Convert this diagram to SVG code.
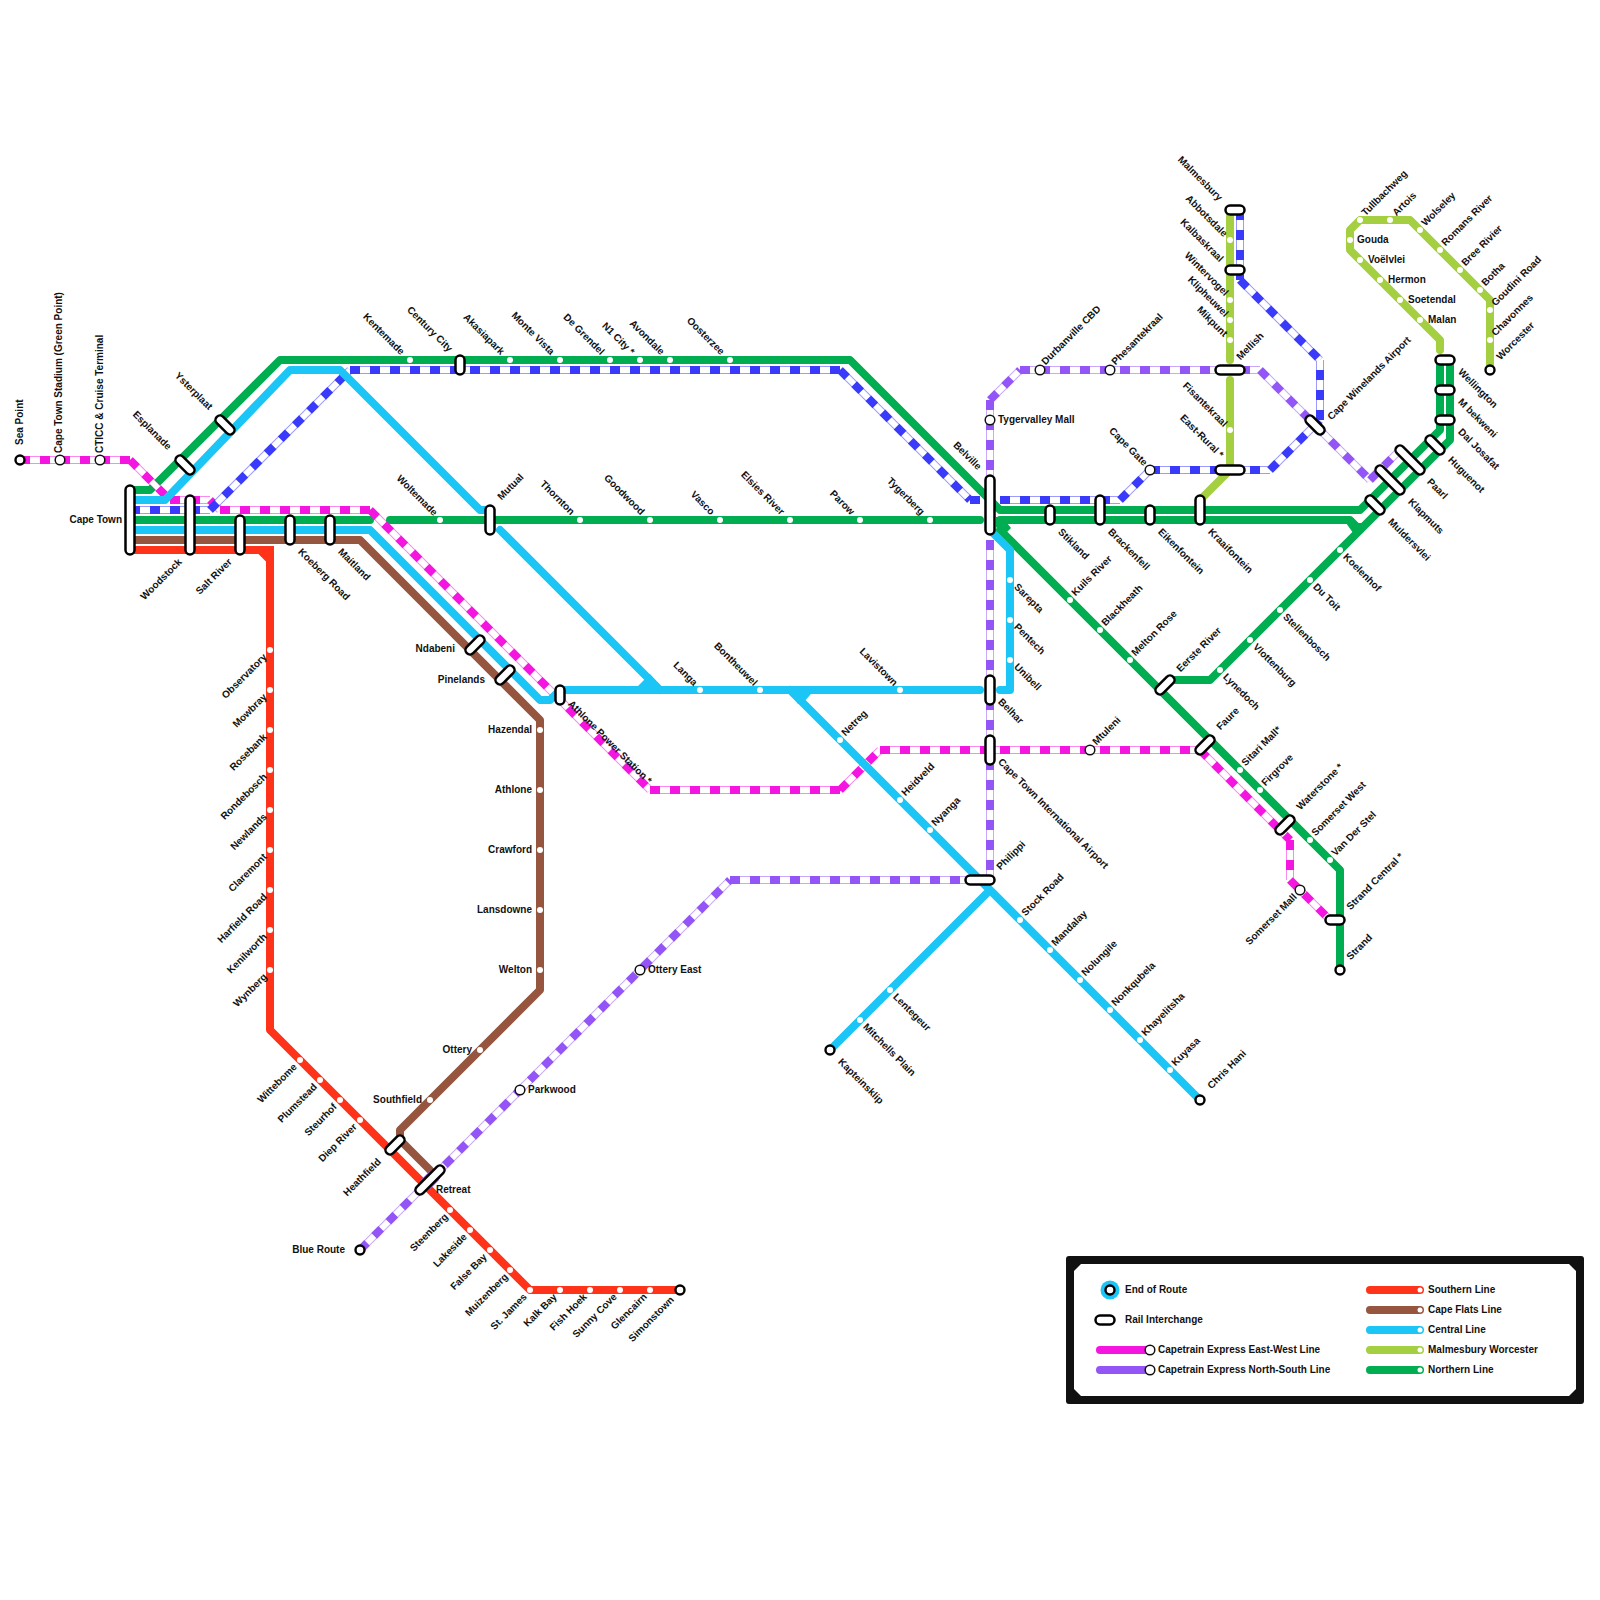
<svg xmlns="http://www.w3.org/2000/svg" width="1600" height="1600" viewBox="0 0 1600 1600">
<style>
text{font-family:"Liberation Sans",Arial,sans-serif;font-size:10px;font-weight:700;fill:#111}
.e{text-anchor:end}
.l{fill:none;stroke-width:8;stroke-linecap:round;stroke-linejoin:round}
.red{stroke:#ff3319}.bro{stroke:#95553f}.cya{stroke:#1bc5f5}.lim{stroke:#a3cf40}.gre{stroke:#00ad50}
.x{fill:none;stroke-width:8}
.xo{opacity:.5}.xw{stroke:#fff;stroke-width:6}.xd{stroke-dasharray:10 10}
.mag{stroke:#f515e0}.pur{stroke:#9355f5}.blu{stroke:#3a3afa}
.s{fill:#fff}
.o{fill:#fff;stroke:#111;stroke-width:1.5}
.t{fill:#fff;stroke:#000;stroke-width:2.4}
.ib{stroke:#000;stroke-width:11.5;stroke-linecap:round}
.iw{stroke:#fff;stroke-width:6.5;stroke-linecap:round}
</style>
<defs>
<path id="pmag" d="M20,460H130M130,460L170,500M170,500H210M210,500L220,510M220,510H370M370,510L650,790M650,790H840M840,790L880,750M880,750H1200M1200,750L1290,840M1290,840V880M1290,880L1330,920"/>
<path id="ppur" d="M360,1250L730,880M730,880H990M990,540V880M990,400V480M990,400L1020,370M1020,370H1260M1260,370L1370,480M1370,480L1400,450"/>
<path id="pblu" d="M130,510H210M210,510L350,370M350,370H840M840,370L970,500M970,500H980M1000,500H1120M1120,500L1150,470M1150,470H1270M1270,470L1320,420M1320,420V360M1240,280L1320,360M1240,210V280"/>
</defs>
<g id="connectors">
<path class="l bro" d="M130,540H360L540,720V990L400,1130V1140L430,1170"/>
<path class="l red" d="M130,550H260L270,560V1030L530,1290H680"/>
<path class="red" fill="none" stroke-width="8" d="M258,550H270V562"/>
<path class="l lim" d="M1230,210V360M1230,380V470L1200,500"/>
<path class="l lim" d="M1440,350V340L1350,250V230L1360,220H1410L1490,300V370"/>
<path class="l gre" d="M130,490H150L280,360H850L1000,510H1360L1440,430V360"/>
<path class="l gre" d="M130,520H370M390,520H980"/>
<path class="l gre" d="M1000,520H1350L1360,530M1000,530L1340,870V970"/>
<path fill="#00ad50" d="M996,517H1012V523H1007L1011,528L1004,535L996,527Z"/>
<path fill="#00ad50" d="M1346,523H1362V532L1356,537Z"/>
<path class="l gre" d="M1450,360V440L1210,680H1170"/>
<g id="exp-purple"><use href="#ppur" class="x pur xo"/><use href="#ppur" class="x xw"/><use href="#ppur" class="x pur xd"/></g>
<g id="exp-magenta"><use href="#pmag" class="x mag xo"/><use href="#pmag" class="x xw"/><use href="#pmag" class="x mag xd"/></g>
<g id="exp-blue"><use href="#pblu" class="x blu xo"/><use href="#pblu" class="x xw"/><use href="#pblu" class="x blu xd"/></g>
<path class="l cya" d="M130,500H165L290,370H340L480,510H490M500,530L660,690"/>
<path class="l cya" d="M130,530H370L540,700H550L560,690H980"/>
<path fill="#1bc5f5" d="M636,688L650,674L666,692H636Z"/>
<path class="l cya" d="M790,690L1200,1100M830,1050L990,890"/>
<path fill="#1bc5f5" d="M786,688H816L804,702L798,704Z"/>
<path class="l cya" d="M990,530L1010,550V690H1000"/>
<path fill="#1bc5f5" d="M1000,693L1012,680V693Z"/>
<path stroke="#9355f5" stroke-width="13" stroke-linecap="round" d="M426,1184L434,1176"/>
</g>
<g id="cape-town"><line class="ib" x1="130" y1="490" x2="130" y2="550"/><line class="iw" x1="130" y1="490" x2="130" y2="550"/><text class="e" x="122" y="519" dy=".35em">Cape Town</text></g>
<g id="woodstock"><line class="ib" x1="190" y1="500" x2="190" y2="550"/><line class="iw" x1="190" y1="500" x2="190" y2="550"/><text class="e" transform="translate(180 560) rotate(-45)" dy=".35em">Woodstock</text></g>
<g id="salt-river"><line class="ib" x1="240" y1="520" x2="240" y2="550"/><line class="iw" x1="240" y1="520" x2="240" y2="550"/><text class="e" transform="translate(230 560) rotate(-45)" dy=".35em">Salt River</text></g>
<g id="koeberg-road"><line class="ib" x1="290" y1="520" x2="290" y2="540"/><line class="iw" x1="290" y1="520" x2="290" y2="540"/><text transform="translate(300 550) rotate(45)" dy=".35em">Koeberg Road</text></g>
<g id="maitland"><line class="ib" x1="330" y1="520" x2="330" y2="540"/><line class="iw" x1="330" y1="520" x2="330" y2="540"/><text transform="translate(340 550) rotate(45)" dy=".35em">Maitland</text></g>
<g id="esplanade"><line class="ib" x1="180" y1="460" x2="190" y2="470"/><line class="iw" x1="180" y1="460" x2="190" y2="470"/><text class="e" transform="translate(170 448) rotate(45)" dy=".35em">Esplanade</text></g>
<g id="ysterplaat"><line class="ib" x1="220" y1="420" x2="230" y2="430"/><line class="iw" x1="220" y1="420" x2="230" y2="430"/><text class="e" transform="translate(211 408) rotate(45)" dy=".35em">Ysterplaat</text></g>
<g id="sea-point"><circle class="t" cx="20" cy="460" r="4.5"/><text transform="translate(19 445) rotate(-90)" dy=".35em">Sea Point</text></g>
<g id="cape-town-stadium"><circle class="o" cx="60" cy="460" r="4.8"/><text transform="translate(58 453) rotate(-90)" dy=".35em">Cape Town Stadium (Green Point)</text></g>
<g id="ctcc"><circle class="o" cx="100" cy="460" r="4.8"/><text transform="translate(99 453) rotate(-90)" dy=".35em">CTICC &amp; Cruise Terminal</text></g>
<g id="kentemade"><circle class="s" cx="410" cy="360" r="3"/><text class="e" transform="translate(403 353) rotate(45)" dy=".35em">Kentemade</text></g>
<g id="century-city"><line class="ib" x1="460" y1="360" x2="460" y2="370"/><line class="iw" x1="460" y1="360" x2="460" y2="370"/><text class="e" transform="translate(451 350) rotate(45)" dy=".35em">Century City</text></g>
<g id="akasiapark"><circle class="s" cx="510" cy="360" r="3"/><text class="e" transform="translate(503 353) rotate(45)" dy=".35em">Akasiapark</text></g>
<g id="monte-vista"><circle class="s" cx="560" cy="360" r="3"/><text class="e" transform="translate(553 353) rotate(45)" dy=".35em">Monte Vista</text></g>
<g id="de-grendel"><circle class="s" cx="610" cy="360" r="3"/><text class="e" transform="translate(603 353) rotate(45)" dy=".35em">De Grendel</text></g>
<g id="n1-city"><circle class="s" cx="640" cy="360" r="3"/><text class="e" transform="translate(633 353) rotate(45)" dy=".35em">N1 City *</text></g>
<g id="avondale"><circle class="s" cx="670" cy="360" r="3"/><text class="e" transform="translate(663 353) rotate(45)" dy=".35em">Avondale</text></g>
<g id="oosterzee"><circle class="s" cx="730" cy="360" r="3"/><text class="e" transform="translate(723 353) rotate(45)" dy=".35em">Oosterzee</text></g>
<g id="woltemade"><circle class="s" cx="440" cy="520" r="3"/><text class="e" transform="translate(436 514) rotate(45)" dy=".35em">Woltemade</text></g>
<g id="mutual"><line class="ib" x1="490" y1="510" x2="490" y2="530"/><line class="iw" x1="490" y1="510" x2="490" y2="530"/><text transform="translate(499 498) rotate(-45)" dy=".35em">Mutual</text></g>
<g id="thornton"><circle class="s" cx="580" cy="520" r="3"/><text class="e" transform="translate(573 513) rotate(45)" dy=".35em">Thornton</text></g>
<g id="goodwood"><circle class="s" cx="650" cy="520" r="3"/><text class="e" transform="translate(643 513) rotate(45)" dy=".35em">Goodwood</text></g>
<g id="vasco"><circle class="s" cx="720" cy="520" r="3"/><text class="e" transform="translate(713 513) rotate(45)" dy=".35em">Vasco</text></g>
<g id="elsies-river"><circle class="s" cx="790" cy="520" r="3"/><text class="e" transform="translate(783 513) rotate(45)" dy=".35em">Elsies River</text></g>
<g id="parow"><circle class="s" cx="860" cy="520" r="3"/><text class="e" transform="translate(853 513) rotate(45)" dy=".35em">Parow</text></g>
<g id="tygerberg"><circle class="s" cx="930" cy="520" r="3"/><text class="e" transform="translate(923 513) rotate(45)" dy=".35em">Tygerberg</text></g>
<g id="belville"><line class="ib" x1="990" y1="480" x2="990" y2="530"/><line class="iw" x1="990" y1="480" x2="990" y2="530"/><text class="e" transform="translate(980 468) rotate(45)" dy=".35em">Belville</text></g>
<g id="ndabeni"><line class="ib" x1="470" y1="650" x2="480" y2="640"/><line class="iw" x1="470" y1="650" x2="480" y2="640"/><text class="e" x="455" y="648" dy=".35em">Ndabeni</text></g>
<g id="pinelands"><line class="ib" x1="500" y1="680" x2="510" y2="670"/><line class="iw" x1="500" y1="680" x2="510" y2="670"/><text class="e" x="485" y="679" dy=".35em">Pinelands</text></g>
<g id="athlone-power"><line class="ib" x1="560" y1="690" x2="560" y2="700"/><line class="iw" x1="560" y1="690" x2="560" y2="700"/><text transform="translate(570 702) rotate(45)" dy=".35em">Athlone Power Station *</text></g>
<g id="hazendal"><circle class="s" cx="540" cy="730" r="3"/><text class="e" x="532" y="729" dy=".35em">Hazendal</text></g>
<g id="athlone"><circle class="s" cx="540" cy="790" r="3"/><text class="e" x="532" y="789" dy=".35em">Athlone</text></g>
<g id="crawford"><circle class="s" cx="540" cy="850" r="3"/><text class="e" x="532" y="849" dy=".35em">Crawford</text></g>
<g id="lansdowne"><circle class="s" cx="540" cy="910" r="3"/><text class="e" x="532" y="909" dy=".35em">Lansdowne</text></g>
<g id="welton"><circle class="s" cx="540" cy="970" r="3"/><text class="e" x="532" y="969" dy=".35em">Welton</text></g>
<g id="ottery"><circle class="s" cx="480" cy="1050" r="3"/><text class="e" x="472" y="1049" dy=".35em">Ottery</text></g>
<g id="southfield"><circle class="s" cx="430" cy="1100" r="3"/><text class="e" x="422" y="1099" dy=".35em">Southfield</text></g>
<g id="observatory"><circle class="s" cx="270" cy="650" r="3"/><text class="e" transform="translate(265 655) rotate(-45)" dy=".35em">Observatory</text></g>
<g id="mowbray"><circle class="s" cx="270" cy="690" r="3"/><text class="e" transform="translate(265 695) rotate(-45)" dy=".35em">Mowbray</text></g>
<g id="rosebank"><circle class="s" cx="270" cy="730" r="3"/><text class="e" transform="translate(265 735) rotate(-45)" dy=".35em">Rosebank</text></g>
<g id="rondebosch"><circle class="s" cx="270" cy="770" r="3"/><text class="e" transform="translate(265 775) rotate(-45)" dy=".35em">Rondebosch</text></g>
<g id="newlands"><circle class="s" cx="270" cy="810" r="3"/><text class="e" transform="translate(265 815) rotate(-45)" dy=".35em">Newlands</text></g>
<g id="claremont"><circle class="s" cx="270" cy="850" r="3"/><text class="e" transform="translate(265 855) rotate(-45)" dy=".35em">Claremont</text></g>
<g id="harfield-road"><circle class="s" cx="270" cy="890" r="3"/><text class="e" transform="translate(265 895) rotate(-45)" dy=".35em">Harfield Road</text></g>
<g id="kenilworth"><circle class="s" cx="270" cy="930" r="3"/><text class="e" transform="translate(265 935) rotate(-45)" dy=".35em">Kenilworth</text></g>
<g id="wynberg"><circle class="s" cx="270" cy="970" r="3"/><text class="e" transform="translate(265 975) rotate(-45)" dy=".35em">Wynberg</text></g>
<g id="wittebome"><circle class="s" cx="300" cy="1060" r="3"/><text class="e" transform="translate(295 1065) rotate(-45)" dy=".35em">Wittebome</text></g>
<g id="plumstead"><circle class="s" cx="320" cy="1080" r="3"/><text class="e" transform="translate(315 1085) rotate(-45)" dy=".35em">Plumstead</text></g>
<g id="steurhof"><circle class="s" cx="340" cy="1100" r="3"/><text class="e" transform="translate(335 1105) rotate(-45)" dy=".35em">Steurhof</text></g>
<g id="diep-river"><circle class="s" cx="360" cy="1120" r="3"/><text class="e" transform="translate(355 1125) rotate(-45)" dy=".35em">Diep River</text></g>
<g id="heathfield"><line class="ib" x1="390" y1="1150" x2="400" y2="1140"/><line class="iw" x1="390" y1="1150" x2="400" y2="1140"/><text class="e" transform="translate(379 1160) rotate(-45)" dy=".35em">Heathfield</text></g>
<g id="retreat"><line class="ib" x1="420" y1="1190" x2="440" y2="1170"/><line class="iw" x1="420" y1="1190" x2="440" y2="1170"/><text x="436" y="1189" dy=".35em">Retreat</text></g>
<g id="steenberg"><circle class="s" cx="450" cy="1210" r="3"/><text class="e" transform="translate(446 1215) rotate(-45)" dy=".35em">Steenberg</text></g>
<g id="lakeside"><circle class="s" cx="470" cy="1230" r="3"/><text class="e" transform="translate(465 1235) rotate(-45)" dy=".35em">Lakeside</text></g>
<g id="false-bay"><circle class="s" cx="490" cy="1250" r="3"/><text class="e" transform="translate(485 1255) rotate(-45)" dy=".35em">False Bay</text></g>
<g id="muizenberg"><circle class="s" cx="510" cy="1270" r="3"/><text class="e" transform="translate(506 1275) rotate(-45)" dy=".35em">Muizenberg</text></g>
<g id="st-james"><circle class="s" cx="530" cy="1290" r="3"/><text class="e" transform="translate(525 1295) rotate(-45)" dy=".35em">St. James</text></g>
<g id="kalk-bay"><circle class="s" cx="560" cy="1290" r="3"/><text class="e" transform="translate(555 1295) rotate(-45)" dy=".35em">Kalk Bay</text></g>
<g id="fish-hoek"><circle class="s" cx="590" cy="1290" r="3"/><text class="e" transform="translate(585 1295) rotate(-45)" dy=".35em">Fish Hoek</text></g>
<g id="sunny-cove"><circle class="s" cx="620" cy="1290" r="3"/><text class="e" transform="translate(615 1295) rotate(-45)" dy=".35em">Sunny Cove</text></g>
<g id="glencairn"><circle class="s" cx="650" cy="1290" r="3"/><text class="e" transform="translate(645 1295) rotate(-45)" dy=".35em">Glencairn</text></g>
<g id="simonstown"><circle class="t" cx="680" cy="1290" r="4.5"/><text class="e" transform="translate(672 1298) rotate(-45)" dy=".35em">Simonstown</text></g>
<g id="blue-route"><circle class="t" cx="360" cy="1250" r="4.5"/><text class="e" x="345" y="1249" dy=".35em">Blue Route</text></g>
<g id="parkwood"><circle class="o" cx="520" cy="1090" r="4.8"/><text x="528" y="1089" dy=".35em">Parkwood</text></g>
<g id="ottery-east"><circle class="o" cx="640" cy="970" r="4.8"/><text x="648" y="969" dy=".35em">Ottery East</text></g>
<g id="langa"><circle class="s" cx="700" cy="690" r="3"/><text class="e" transform="translate(696 684) rotate(45)" dy=".35em">Langa</text></g>
<g id="bontheuwel"><circle class="s" cx="760" cy="690" r="3"/><text class="e" transform="translate(756 684) rotate(45)" dy=".35em">Bontheuwel</text></g>
<g id="lavistown"><circle class="s" cx="900" cy="690" r="3"/><text class="e" transform="translate(896 684) rotate(45)" dy=".35em">Lavistown</text></g>
<g id="belhar"><line class="ib" x1="990" y1="680" x2="990" y2="700"/><line class="iw" x1="990" y1="680" x2="990" y2="700"/><text transform="translate(1000 700) rotate(45)" dy=".35em">Belhar</text></g>
<g id="cpt-airport"><line class="ib" x1="990" y1="740" x2="990" y2="760"/><line class="iw" x1="990" y1="740" x2="990" y2="760"/><text transform="translate(1000 760) rotate(45)" dy=".35em">Cape Town International Airport</text></g>
<g id="philippi"><line class="ib" x1="970" y1="880" x2="990" y2="880"/><line class="iw" x1="970" y1="880" x2="990" y2="880"/><text transform="translate(998 868) rotate(-45)" dy=".35em">Philippi</text></g>
<g id="netreg"><circle class="s" cx="840" cy="740" r="3"/><text transform="translate(843 734) rotate(-45)" dy=".35em">Netreg</text></g>
<g id="heidveld"><circle class="s" cx="900" cy="800" r="3"/><text transform="translate(903 794) rotate(-45)" dy=".35em">Heidveld</text></g>
<g id="nyanga"><circle class="s" cx="930" cy="830" r="3"/><text transform="translate(933 824) rotate(-45)" dy=".35em">Nyanga</text></g>
<g id="stock-road"><circle class="s" cx="1020" cy="920" r="3"/><text transform="translate(1023 914) rotate(-45)" dy=".35em">Stock Road</text></g>
<g id="mandalay"><circle class="s" cx="1050" cy="950" r="3"/><text transform="translate(1053 944) rotate(-45)" dy=".35em">Mandalay</text></g>
<g id="nolungile"><circle class="s" cx="1080" cy="980" r="3"/><text transform="translate(1083 974) rotate(-45)" dy=".35em">Nolungile</text></g>
<g id="nonkqubela"><circle class="s" cx="1110" cy="1010" r="3"/><text transform="translate(1113 1004) rotate(-45)" dy=".35em">Nonkqubela</text></g>
<g id="khayelitsha"><circle class="s" cx="1140" cy="1040" r="3"/><text transform="translate(1143 1034) rotate(-45)" dy=".35em">Khayelitsha</text></g>
<g id="kuyasa"><circle class="s" cx="1170" cy="1070" r="3"/><text transform="translate(1173 1064) rotate(-45)" dy=".35em">Kuyasa</text></g>
<g id="chris-hani"><circle class="t" cx="1200" cy="1100" r="4.5"/><text transform="translate(1209 1087) rotate(-45)" dy=".35em">Chris Hani</text></g>
<g id="lentegeur"><circle class="s" cx="890" cy="990" r="3"/><text transform="translate(895 995) rotate(45)" dy=".35em">Lentegeur</text></g>
<g id="mitchells-plain"><circle class="s" cx="860" cy="1020" r="3"/><text transform="translate(865 1025) rotate(45)" dy=".35em">Mitchells Plain</text></g>
<g id="kapteinsklip"><circle class="t" cx="830" cy="1050" r="4.5"/><text transform="translate(840 1060) rotate(45)" dy=".35em">Kapteinsklip</text></g>
<g id="sarepta"><circle class="s" cx="1010" cy="580" r="3"/><text transform="translate(1016 585) rotate(45)" dy=".35em">Sarepta</text></g>
<g id="pentech"><circle class="s" cx="1010" cy="620" r="3"/><text transform="translate(1016 625) rotate(45)" dy=".35em">Pentech</text></g>
<g id="unibell"><circle class="s" cx="1010" cy="660" r="3"/><text transform="translate(1016 665) rotate(45)" dy=".35em">Unibell</text></g>
<g id="tygervalley"><circle class="o" cx="990" cy="420" r="4.8"/><text x="998" y="419" dy=".35em">Tygervalley Mall</text></g>
<g id="durbanville"><circle class="o" cx="1040" cy="370" r="4.8"/><text transform="translate(1043 363) rotate(-45)" dy=".35em">Durbanville CBD</text></g>
<g id="phesantekraal"><circle class="o" cx="1110" cy="370" r="4.8"/><text transform="translate(1113 363) rotate(-45)" dy=".35em">Phesantekraal</text></g>
<g id="cape-gate"><circle class="o" cx="1150" cy="470" r="4.8"/><text class="e" transform="translate(1146 464) rotate(45)" dy=".35em">Cape Gate</text></g>
<g id="stikland"><line class="ib" x1="1050" y1="510" x2="1050" y2="520"/><line class="iw" x1="1050" y1="510" x2="1050" y2="520"/><text transform="translate(1060 530) rotate(45)" dy=".35em">Stikland</text></g>
<g id="brackenfell"><line class="ib" x1="1100" y1="500" x2="1100" y2="520"/><line class="iw" x1="1100" y1="500" x2="1100" y2="520"/><text transform="translate(1110 530) rotate(45)" dy=".35em">Brackenfell</text></g>
<g id="eikenfontein"><line class="ib" x1="1150" y1="510" x2="1150" y2="520"/><line class="iw" x1="1150" y1="510" x2="1150" y2="520"/><text transform="translate(1160 530) rotate(45)" dy=".35em">Eikenfontein</text></g>
<g id="kraaifontein"><line class="ib" x1="1200" y1="500" x2="1200" y2="520"/><line class="iw" x1="1200" y1="500" x2="1200" y2="520"/><text transform="translate(1210 530) rotate(45)" dy=".35em">Kraaifontein</text></g>
<g id="kuils-river"><circle class="s" cx="1070" cy="600" r="3"/><text transform="translate(1073 594) rotate(-45)" dy=".35em">Kuils River</text></g>
<g id="blackheath"><circle class="s" cx="1100" cy="630" r="3"/><text transform="translate(1103 624) rotate(-45)" dy=".35em">Blackheath</text></g>
<g id="melton-rose"><circle class="s" cx="1130" cy="660" r="3"/><text transform="translate(1133 654) rotate(-45)" dy=".35em">Melton Rose</text></g>
<g id="eerste-river"><line class="ib" x1="1160" y1="690" x2="1170" y2="680"/><line class="iw" x1="1160" y1="690" x2="1170" y2="680"/><text transform="translate(1178 670) rotate(-45)" dy=".35em">Eerste River</text></g>
<g id="faure"><line class="ib" x1="1200" y1="750" x2="1210" y2="740"/><line class="iw" x1="1200" y1="750" x2="1210" y2="740"/><text transform="translate(1218 728) rotate(-45)" dy=".35em">Faure</text></g>
<g id="mtuleni"><circle class="o" cx="1090" cy="750" r="4.8"/><text transform="translate(1094 743) rotate(-45)" dy=".35em">Mtuleni</text></g>
<g id="sitari-mall"><circle class="s" cx="1240" cy="770" r="3"/><text transform="translate(1243 764) rotate(-45)" dy=".35em">Sitari Mall*</text></g>
<g id="firgrove"><circle class="s" cx="1260" cy="790" r="3"/><text transform="translate(1263 784) rotate(-45)" dy=".35em">Firgrove</text></g>
<g id="waterstone"><line class="ib" x1="1280" y1="830" x2="1290" y2="820"/><line class="iw" x1="1280" y1="830" x2="1290" y2="820"/><text transform="translate(1298 808) rotate(-45)" dy=".35em">Waterstone *</text></g>
<g id="somerset-west"><circle class="s" cx="1310" cy="840" r="3"/><text transform="translate(1313 834) rotate(-45)" dy=".35em">Somerset West</text></g>
<g id="van-der-stel"><circle class="s" cx="1330" cy="860" r="3"/><text transform="translate(1333 854) rotate(-45)" dy=".35em">Van Der Stel</text></g>
<g id="somerset-mall"><circle class="o" cx="1300" cy="890" r="4.8"/><text class="e" transform="translate(1295 895) rotate(-45)" dy=".35em">Somerset Mall</text></g>
<g id="strand-central"><line class="ib" x1="1330" y1="920" x2="1340" y2="920"/><line class="iw" x1="1330" y1="920" x2="1340" y2="920"/><text transform="translate(1348 908) rotate(-45)" dy=".35em">Strand Central *</text></g>
<g id="strand"><circle class="t" cx="1340" cy="970" r="4.5"/><text transform="translate(1348 958) rotate(-45)" dy=".35em">Strand</text></g>
<g id="lynedoch"><circle class="s" cx="1220" cy="670" r="3"/><text transform="translate(1225 675) rotate(45)" dy=".35em">Lynedoch</text></g>
<g id="vlottenburg"><circle class="s" cx="1250" cy="640" r="3"/><text transform="translate(1255 645) rotate(45)" dy=".35em">Vlottenburg</text></g>
<g id="stellenbosch"><circle class="s" cx="1280" cy="610" r="3"/><text transform="translate(1285 615) rotate(45)" dy=".35em">Stellenbosch</text></g>
<g id="du-toit"><circle class="s" cx="1310" cy="580" r="3"/><text transform="translate(1315 585) rotate(45)" dy=".35em">Du Toit</text></g>
<g id="koelenhof"><circle class="s" cx="1340" cy="550" r="3"/><text transform="translate(1345 555) rotate(45)" dy=".35em">Koelenhof</text></g>
<g id="muldersvlei"><line class="ib" x1="1370" y1="500" x2="1380" y2="510"/><line class="iw" x1="1370" y1="500" x2="1380" y2="510"/><text transform="translate(1390 520) rotate(45)" dy=".35em">Muldersvlei</text></g>
<g id="klapmuts"><line class="ib" x1="1380" y1="470" x2="1400" y2="490"/><line class="iw" x1="1380" y1="470" x2="1400" y2="490"/><text transform="translate(1410 500) rotate(45)" dy=".35em">Klapmuts</text></g>
<g id="paarl"><line class="ib" x1="1400" y1="450" x2="1420" y2="470"/><line class="iw" x1="1400" y1="450" x2="1420" y2="470"/><text transform="translate(1429 480) rotate(45)" dy=".35em">Paarl</text></g>
<g id="huguenot"><line class="ib" x1="1430" y1="440" x2="1440" y2="450"/><line class="iw" x1="1430" y1="440" x2="1440" y2="450"/><text transform="translate(1450 458) rotate(45)" dy=".35em">Huguenot</text></g>
<g id="dal-josafat"><line class="ib" x1="1440" y1="420" x2="1450" y2="420"/><line class="iw" x1="1440" y1="420" x2="1450" y2="420"/><text transform="translate(1460 430) rotate(45)" dy=".35em">Dal Josafat</text></g>
<g id="m-bekweni"><line class="ib" x1="1440" y1="390" x2="1450" y2="390"/><line class="iw" x1="1440" y1="390" x2="1450" y2="390"/><text transform="translate(1460 400) rotate(45)" dy=".35em">M bekweni</text></g>
<g id="wellington"><line class="ib" x1="1440" y1="360" x2="1450" y2="360"/><line class="iw" x1="1440" y1="360" x2="1450" y2="360"/><text transform="translate(1460 370) rotate(45)" dy=".35em">Wellington</text></g>
<g id="cape-winelands"><line class="ib" x1="1310" y1="420" x2="1320" y2="430"/><line class="iw" x1="1310" y1="420" x2="1320" y2="430"/><text transform="translate(1329 418) rotate(-45)" dy=".35em">Cape Winelands Airport</text></g>
<g id="malmesbury"><line class="ib" x1="1230" y1="210" x2="1240" y2="210"/><line class="iw" x1="1230" y1="210" x2="1240" y2="210"/><text class="e" transform="translate(1221 199) rotate(45)" dy=".35em">Malmesbury</text></g>
<g id="abbotsdale"><circle class="s" cx="1230" cy="240" r="3"/><text class="e" transform="translate(1226 235) rotate(45)" dy=".35em">Abbotsdale</text></g>
<g id="kalbaskraal"><line class="ib" x1="1230" y1="270" x2="1240" y2="270"/><line class="iw" x1="1230" y1="270" x2="1240" y2="270"/><text class="e" transform="translate(1222 260) rotate(45)" dy=".35em">Kalbaskraal</text></g>
<g id="wintervogel"><circle class="s" cx="1230" cy="300" r="3"/><text class="e" transform="translate(1227 294) rotate(45)" dy=".35em">Wintervogel</text></g>
<g id="klipheuwel"><circle class="s" cx="1230" cy="320" r="3"/><text class="e" transform="translate(1227 315) rotate(45)" dy=".35em">Klipheuwel</text></g>
<g id="mikpunt"><circle class="s" cx="1230" cy="340" r="3"/><text class="e" transform="translate(1226 335) rotate(45)" dy=".35em">Mikpunt</text></g>
<g id="mellish"><line class="ib" x1="1220" y1="370" x2="1240" y2="370"/><line class="iw" x1="1220" y1="370" x2="1240" y2="370"/><text transform="translate(1238 358) rotate(-45)" dy=".35em">Mellish</text></g>
<g id="fisantekraal"><circle class="s" cx="1230" cy="430" r="3"/><text class="e" transform="translate(1226 425) rotate(45)" dy=".35em">Fisantekraal</text></g>
<g id="east-rural"><line class="ib" x1="1220" y1="470" x2="1240" y2="470"/><line class="iw" x1="1220" y1="470" x2="1240" y2="470"/><text class="e" transform="translate(1222 456) rotate(45)" dy=".35em">East-Rural *</text></g>
<g id="gouda"><circle class="s" cx="1350" cy="240" r="3"/><text x="1357" y="239" dy=".35em">Gouda</text></g>
<g id="voelvlei"><circle class="s" cx="1360" cy="260" r="3"/><text x="1368" y="259" dy=".35em">Voëlvlei</text></g>
<g id="hermon"><circle class="s" cx="1380" cy="280" r="3"/><text x="1388" y="279" dy=".35em">Hermon</text></g>
<g id="soetendal"><circle class="s" cx="1400" cy="300" r="3"/><text x="1408" y="299" dy=".35em">Soetendal</text></g>
<g id="malan"><circle class="s" cx="1420" cy="320" r="3"/><text x="1428" y="319" dy=".35em">Malan</text></g>
<g id="tullbachweg"><circle class="s" cx="1360" cy="220" r="3"/><text transform="translate(1363 214) rotate(-45)" dy=".35em">Tullbachweg</text></g>
<g id="artois"><circle class="s" cx="1390" cy="220" r="3"/><text transform="translate(1394 214) rotate(-45)" dy=".35em">Artois</text></g>
<g id="wolseley"><circle class="s" cx="1420" cy="230" r="3"/><text transform="translate(1423 224) rotate(-45)" dy=".35em">Wolseley</text></g>
<g id="romans-river"><circle class="s" cx="1440" cy="250" r="3"/><text transform="translate(1443 244) rotate(-45)" dy=".35em">Romans River</text></g>
<g id="bree-rivier"><circle class="s" cx="1460" cy="270" r="3"/><text transform="translate(1463 264) rotate(-45)" dy=".35em">Bree Rivier</text></g>
<g id="botha"><circle class="s" cx="1480" cy="290" r="3"/><text transform="translate(1483 284) rotate(-45)" dy=".35em">Botha</text></g>
<g id="goudini-road"><circle class="s" cx="1490" cy="310" r="3"/><text transform="translate(1493 304) rotate(-45)" dy=".35em">Goudini Road</text></g>
<g id="chavonnes"><circle class="s" cx="1490" cy="340" r="3"/><text transform="translate(1493 334) rotate(-45)" dy=".35em">Chavonnes</text></g>
<g id="worcester"><circle class="t" cx="1490" cy="370" r="4.5"/><text transform="translate(1498 358) rotate(-45)" dy=".35em">Worcester</text></g>
<g id="legend">
<rect x="1066" y="1256" width="518" height="148" rx="3" fill="#111"/>
<path d="M1081,1264H1569L1576,1271V1389L1569,1396H1081L1074,1389V1271Z" fill="#fff"/>
<circle cx="1110" cy="1290" r="9.5" fill="#1bc5f5"/><circle class="t" cx="1110" cy="1290" r="4.5"/>
<text x="1125" y="1289" dy=".35em">End of Route</text>
<line x1="1100" y1="1320" x2="1110" y2="1320" stroke="#000" stroke-width="11.5" stroke-linecap="round"/><line x1="1100" y1="1320" x2="1110" y2="1320" stroke="#fff" stroke-width="6.5" stroke-linecap="round"/>
<text x="1125" y="1319" dy=".35em">Rail Interchange</text>
<path class="l mag" d="M1100,1350H1150"/><circle class="o" cx="1150" cy="1350" r="4.8"/><text x="1158" y="1349" dy=".35em">Capetrain Express East-West Line</text>
<path class="l pur" d="M1100,1370H1150"/><circle class="o" cx="1150" cy="1370" r="4.8"/><text x="1158" y="1369" dy=".35em">Capetrain Express North-South Line</text>
<path class="l red" d="M1370,1290H1420"/><circle class="s" cx="1420" cy="1290" r="2.5"/><text x="1428" y="1289" dy=".35em">Southern Line</text>
<path class="l bro" d="M1370,1310H1420"/><circle class="s" cx="1420" cy="1310" r="2.5"/><text x="1428" y="1309" dy=".35em">Cape Flats Line</text>
<path class="l cya" d="M1370,1330H1420"/><circle class="s" cx="1420" cy="1330" r="2.5"/><text x="1428" y="1329" dy=".35em">Central Line</text>
<path class="l lim" d="M1370,1350H1420"/><circle class="s" cx="1420" cy="1350" r="2.5"/><text x="1428" y="1349" dy=".35em">Malmesbury Worcester</text>
<path class="l gre" d="M1370,1370H1420"/><circle class="s" cx="1420" cy="1370" r="2.5"/><text x="1428" y="1369" dy=".35em">Northern Line</text>
</g>
</svg>
